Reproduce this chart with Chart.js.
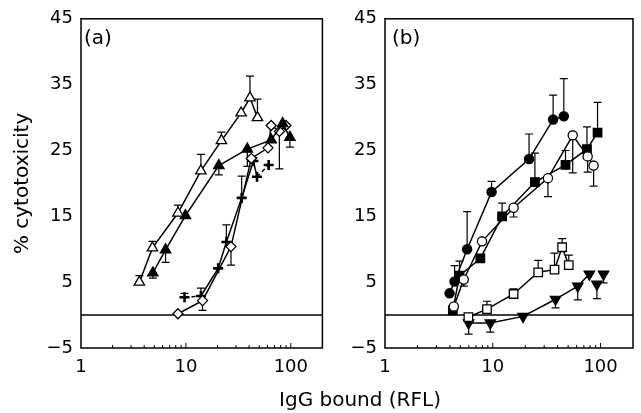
<!DOCTYPE html>
<html lang="en">
<head>
<meta charset="UTF-8">
<title>Cytotoxicity vs IgG bound</title>
<script src="https://cdn.jsdelivr.net/npm/chart.js@4"></script>
<style>
  html, body { margin: 0; padding: 0; background: #fff; overflow: hidden; }
  #wrap { position: relative; width: 641px; height: 413px; }
  #chartA { position: absolute; left: 0; top: 0; }
  #chartB { position: absolute; left: 330px; top: 0; }
  #xTitle { position: absolute; left: 210px; width: 300px; top: 387px; text-align: center;
            font: 20px "DejaVu Sans"; color: #000; }
</style>
</head>
<body>
<div id="wrap">
  <canvas id="chartA" width="330" height="413"></canvas>
  <canvas id="chartB" width="311" height="413"></canvas>
  <div id="xTitle">IgG bound (RFL)</div>
</div>

<script>
// ---- axis ticks ----
const xTickVals = [1, 10, 100];
const minorTicks = [2, 3, 4, 5, 6, 7, 8, 9, 20, 30, 40, 50, 60, 70, 80, 90];
const majorTicks = [10, 100];

// ---- panel (a) ----
// open triangles
const aOpenTriX = [3.6, 4.8, 8.4, 13.9, 21.8, 33.6, 40.8, 48.1];
const aOpenTriY = [5, 10.2, 15.5, 21.9, 26.5, 30.7, 33, 30];
const aOpenTriE = [1, 1, 1.2, 2.5, 1.3, 0, 3.3, 2.8];
// filled triangles
const aFillTriX = [4.84, 6.4, 9.9, 20.6, 38.5, 65, 83.6, 98];
const aFillTriY = [6.4, 9.9, 15.1, 22.7, 25.2, 26.6, 29.1, 27];
const aFillTriE = [-0.8, -1.9, 0, -1.4, -2.6, 0, 0, -1.5];
// open diamonds
const aDiaX = [8.4, 14.4, 26.9, 42, 60.6, 65, 77.8, 89.8];
const aDiaY = [0.2, 2.2, 10.4, 23.8, 25.4, 28.8, 27.9, 28.8];
const aDiaE = [0, -1.5, -2.8, 0, 0, 0, -5.7, 0];
// crosses
const aPlusX = [9.7, 13.9, 20.3, 24.3, 34, 44, 47.6, 61.5];
const aPlusY = [2.7, 2.9, 7.1, 11.1, 17.8, 23.4, 21.0, 22.8];
const aPlusE = [0.6, 1.2, 0, 2.6, 3.3, 0.5, 0, 0];

// ---- panel (b) ----
// filled circles
const bFillCirX = [3.97, 4.42, 5.78, 9.75, 21.7, 36.3, 45.6];
const bFillCirY = [3.3, 5.1, 10, 18.7, 23.7, 29.7, 30.2];
const bFillCirE = [0, 2.4, 5.7, 1.6, 3.8, 3.7, 5.7];
// open circles
const bOpenCirX = [4.35, 5.38, 7.95, 15.6, 32.5, 55.2, 75.9, 86.2];
const bOpenCirY = [1.3, 5.4, 11.2, 16.3, 20.8, 27.3, 24.1, 22.7];
const bOpenCirE = [0, -1, 0, -1.4, -2.8, -5.7, -2.4, -3.1];
// filled squares
const bFillSqX = [4.26, 4.91, 7.67, 12.2, 24.6, 47.3, 74.8, 93.8];
const bFillSqY = [0.7, 6, 8.6, 15, 20.2, 22.8, 25.2, 27.7];
const bFillSqE = [0, 2.2, 0, 2, 4.4, 2.2, 3.4, 4.6];
// open squares
const bOpenSqX = [5.94, 8.84, 15.6, 26.4, 37.4, 44, 50.7];
const bOpenSqY = [-0.3, 0.9, 3.2, 6.5, 6.9, 10.3, 7.6];
const bOpenSqE = [0, 1.2, 0.8, 1.8, 2.5, 1.3, 1.5];
// filled down triangles (connected part + loose points)
const bDownTriX = [5.97, 9.48, 19.1, 38.2, 61.4, 78.7];
const bDownTriY = [-1.2, -1.2, -0.2, 2.4, 4.4, 6.2];
const bDownTriE = [-1.7, -1.4, 0, -1.3, -2.1, 0];
const bDownLooseX = [92.5, 106.6];
const bDownLooseY = [4.7, 6.2];
const bDownLooseE = [-2.2, -1.3];

const fam = 'DejaVu Sans';

function series(xs, ys, errs, style) {
    return Object.assign({
        data: xs.map((x, i) => ({ x: x, y: ys[i] })),
        errs: errs,
        showLine: true,
        borderColor: '#000',
        borderWidth: 1.5,
        pointBorderColor: '#000',
        pointBorderWidth: 1.3,
        pointRadius: 5,
        pointHoverRadius: 5,
        fill: false
    }, style);
}

const openTri = { pointStyle: 'triangle', pointRadius: 6, pointBackgroundColor: '#fff' };
const fillTri = { pointStyle: 'triangle', pointRadius: 6, pointBackgroundColor: '#000' };
const openDia = { pointStyle: 'rectRot', pointRadius: 5, pointBackgroundColor: '#fff' };
const plus = { pointStyle: 'cross', pointRadius: 5, pointBorderWidth: 2.6, pointBackgroundColor: '#000',
    segment: { borderDash: c => (c.p0DataIndex === 0 || c.p0DataIndex >= 6) ? [4, 3] : undefined } };
const fillCir = { pointStyle: 'circle', pointRadius: 4.6, pointBackgroundColor: '#000' };
const openCir = { pointStyle: 'circle', pointRadius: 4.6, pointBackgroundColor: '#fff' };
const fillSq = { pointStyle: 'rect', pointRadius: 6, pointBackgroundColor: '#000' };
const openSq = { pointStyle: 'rect', pointRadius: 6, pointBackgroundColor: '#fff' };
const downTri = { pointStyle: 'triangle', rotation: 180, pointRadius: 6, pointBackgroundColor: '#000' };

// zero line, inside ticks, error bars, frame and panel letter
const panelDecor = {
    id: 'panelDecor',
    beforeDatasetsDraw(chart) {
        const ctx = chart.ctx, a = chart.chartArea;
        const x = chart.scales.x, y = chart.scales.y;
        ctx.save();
        ctx.strokeStyle = '#000';
        ctx.lineWidth = 1.5;
        const y0 = y.getPixelForValue(0);
        ctx.beginPath(); ctx.moveTo(a.left, y0); ctx.lineTo(a.right, y0); ctx.stroke();

        ctx.lineWidth = 1;
        minorTicks.forEach(v => {
            const px = x.getPixelForValue(v);
            ctx.beginPath(); ctx.moveTo(px, a.bottom); ctx.lineTo(px, a.bottom - 3); ctx.stroke();
        });
        majorTicks.forEach(v => {
            const px = x.getPixelForValue(v);
            ctx.beginPath(); ctx.moveTo(px, a.bottom); ctx.lineTo(px, a.bottom - 5); ctx.stroke();
        });

        ctx.lineWidth = 1.2;
        chart.data.datasets.forEach((ds, i) => {
            if (!ds.errs) return;
            const meta = chart.getDatasetMeta(i);
            meta.data.forEach((pt, j) => {
                const e = ds.errs[j];
                if (!e) return;
                const py = y.getPixelForValue(ds.data[j].y + e);
                ctx.beginPath();
                ctx.moveTo(pt.x, pt.y); ctx.lineTo(pt.x, py);
                ctx.moveTo(pt.x - 4, py); ctx.lineTo(pt.x + 4, py);
                ctx.stroke();
            });
        });
        ctx.restore();
    },
    afterDraw(chart, args, opts) {
        const ctx = chart.ctx, a = chart.chartArea;
        ctx.save();
        ctx.strokeStyle = '#000';
        ctx.lineWidth = 1.5;
        ctx.strokeRect(a.left, a.top, a.right - a.left, a.bottom - a.top);
        ctx.fillStyle = '#000';
        ctx.font = '20px "' + fam + '"';
        ctx.textBaseline = 'middle';
        ctx.fillText(opts.label, a.left + opts.dx, a.top + 20);
        ctx.restore();
    }
};

function makeOptions(yTitle, yWidth, padRight, label, dx) {
    return {
        responsive: false,
        animation: false,
        layout: { padding: { left: 0, right: padRight, top: 13, bottom: 0 } },
        plugins: {
            legend: { display: false },
            tooltip: { enabled: false },
            panelDecor: { label: label, dx: dx }
        },
        scales: {
            x: {
                type: 'logarithmic', min: 1, max: 200,
                grid: { display: false, drawTicks: false },
                border: { display: false },
                afterBuildTicks: s => { s.ticks = xTickVals.map(v => ({ value: v })); },
                afterFit: s => { s.height = 65; },
                ticks: { font: { family: fam, size: 18 }, color: '#000', padding: 9,
                         maxRotation: 0, autoSkip: false, callback: v => String(v) }
            },
            y: {
                min: -5, max: 45,
                grid: { display: false, drawTicks: false },
                border: { display: false },
                afterFit: s => { s.width = yWidth; },
                ticks: { stepSize: 10, font: { family: fam, size: 18 }, color: '#000', padding: 8,
                         callback: v => String(v).replace('-', '\u2212') },
                title: yTitle
                    ? { display: true, text: yTitle, color: '#000', font: { family: fam, size: 20 }, padding: { top: 11 } }
                    : { display: false }
            }
        }
    };
}

new Chart(document.getElementById('chartA'), {
    type: 'scatter',
    data: {
        datasets: [
            series(aOpenTriX, aOpenTriY, aOpenTriE, openTri),
            series(aFillTriX, aFillTriY, aFillTriE, fillTri),
            series(aDiaX, aDiaY, aDiaE, openDia),
            series(aPlusX, aPlusY, aPlusE, plus)
        ]
    },
    options: makeOptions('% cytotoxicity', 81, 4, '(a)', 3),
    plugins: [panelDecor]
});

new Chart(document.getElementById('chartB'), {
    type: 'scatter',
    data: {
        datasets: [
            series(bFillCirX, bFillCirY, bFillCirE, fillCir),
            series(bOpenCirX, bOpenCirY, bOpenCirE, openCir),
            series(bFillSqX, bFillSqY, bFillSqE, fillSq),
            series(bOpenSqX, bOpenSqY, bOpenSqE, openSq),
            series(bDownTriX, bDownTriY, bDownTriE, downTri),
            series(bDownLooseX, bDownLooseY, bDownLooseE, Object.assign({}, downTri, { showLine: false }))
        ]
    },
    options: makeOptions(null, 55, 8, '(b)', 7),
    plugins: [panelDecor]
});
</script>
</body>
</html>
